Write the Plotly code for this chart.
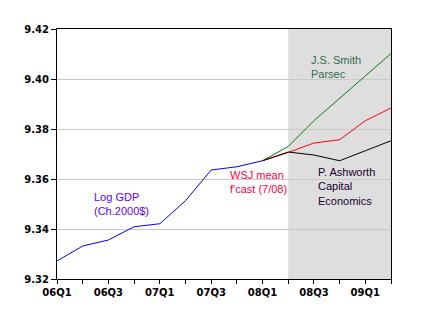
import plotly.graph_objects as go

# Quarterly axis: 06Q1 .. 09Q2
quarters = ["06Q1", "06Q2", "06Q3", "06Q4", "07Q1", "07Q2", "07Q3", "07Q4",
            "08Q1", "08Q2", "08Q3", "08Q4", "09Q1", "09Q2"]
tick_labels = ["06Q1", "", "06Q3", "", "07Q1", "", "07Q3", "",
               "08Q1", "", "08Q3", "", "09Q1", ""]

# Log real GDP (chained 2000 dollars), actuals through 08Q1
log_gdp = [9.3272, 9.3332, 9.3356, 9.3409, 9.3421, 9.3513, 9.3636, 9.3649, 9.3673]

# Forecasts starting from 08Q1
fc_quarters = quarters[8:]
smith_parsec = [9.3673, 9.3730, 9.3833, 9.3923, 9.4013, 9.4102]
wsj_mean = [9.3673, 9.3706, 9.3744, 9.3757, 9.3833, 9.3884]
ashworth_ce = [9.3673, 9.3708, 9.3696, 9.3673, 9.3713, 9.3753]

idx = {q: i for i, q in enumerate(quarters)}
x_hist = [idx[q] for q in quarters[:len(log_gdp)]]
x_fc = [idx[q] for q in fc_quarters]

fig = go.Figure()
fig.add_trace(go.Scatter(x=x_hist, y=log_gdp, mode="lines",
                         line=dict(color="#0000ff", width=1)))
fig.add_trace(go.Scatter(x=x_fc, y=smith_parsec, mode="lines",
                         line=dict(color="#008000", width=1)))
fig.add_trace(go.Scatter(x=x_fc, y=wsj_mean, mode="lines",
                         line=dict(color="#ff0000", width=1)))
fig.add_trace(go.Scatter(x=x_fc, y=ashworth_ce, mode="lines",
                         line=dict(color="#000000", width=1)))

# Forecast period shading
fig.add_shape(type="rect", xref="x", yref="paper",
              x0=idx["08Q2"], x1=idx["09Q2"], y0=0, y1=1,
              fillcolor="#dedede", line=dict(width=0), layer="below")

ann_font = dict(family="Liberation Sans, Arial, sans-serif", size=11)
notes = [
    ("Log GDP<br>(Ch.2000$)", 1.38, 9.3502, "#5a00ff"),
    ("WSJ mean<br>f'cast (7/08)", 6.66, 9.3590, "#ff0040"),
    ("J.S. Smith<br>Parsec", 9.82, 9.4047, "#2e6e4e"),
    ("P. Ashworth<br>Capital<br>Economics", 10.1, 9.3570, "#200030"),
]
for text, x, y, c in notes:
    fig.add_annotation(x=x, y=y, xref="x", yref="y", text=text, showarrow=False,
                       xanchor="left", yanchor="middle", align="left",
                       font=dict(color=c, **ann_font))

tick_font = dict(family="DejaVu Sans", size=10, color="black", weight="bold")

fig.update_xaxes(range=[0, 13], tickmode="array",
                 tickvals=list(range(len(quarters))), ticktext=tick_labels,
                 ticks="outside", ticklen=4, tickcolor="black",
                 showline=True, linecolor="black", linewidth=1, mirror=True,
                 showgrid=False, zeroline=False, tickfont=tick_font)
fig.update_yaxes(range=[9.32, 9.42], tickmode="array",
                 tickvals=[9.32, 9.34, 9.36, 9.38, 9.40, 9.42],
                 ticktext=["9.32", "9.34", "9.36", "9.38", "9.40", "9.42"],
                 ticks="outside", ticklen=5, tickcolor="black",
                 showline=True, linecolor="black", linewidth=1, mirror=True,
                 showgrid=True, gridcolor="#c8c8c8", gridwidth=1,
                 zeroline=False, tickfont=tick_font)

fig.update_layout(width=428, height=324, showlegend=False,
                  margin=dict(l=57, r=37, t=29, b=45),
                  plot_bgcolor="white", paper_bgcolor="white")

fig.write_html("out.html")
